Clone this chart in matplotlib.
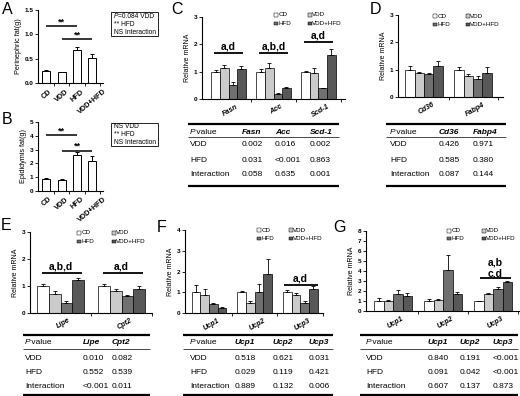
import matplotlib
matplotlib.use('Agg')
import matplotlib.pyplot as plt
from matplotlib.patches import Rectangle
import matplotlib.transforms as mtransforms

plt.rcParams['font.family'] = ['Liberation Sans', 'DejaVu Sans']

# ---------------- data ----------------
groups = ['CD', 'VDD', 'HFD', 'VDD+HFD']
group_colors = ['white', '#cbcbcb', '#707070', '#585858']

perinephric_mean = [0.25, 0.22, 0.675, 0.52]
perinephric_err = [0.02, 0.015, 0.06, 0.08]
epididymis_mean = [0.87, 0.80, 2.60, 2.20]
epididymis_err = [0.08, 0.10, 0.20, 0.30]

row_names = ['VDD', 'HFD', 'Interaction']

C_genes = ['Fasn', 'Acc', 'Scd-1']
C_mean = [[1.00, 1.13, 0.53, 1.10], [1.00, 1.13, 0.20, 0.41], [1.00, 0.95, 0.40, 1.60]]
C_err = [[0.07, 0.10, 0.08, 0.10], [0.10, 0.17, 0.02, 0.04], [0.03, 0.20, 0.02, 0.23]]
C_sig = ['a,d', 'a,b,d', 'a,d']
C_sig_y = [1.68, 1.68, 2.09]
C_p = [['0.002', '0.016', '0.002'], ['0.031', '<0.001', '0.863'], ['0.058', '0.635', '0.001']]

D_genes = ['Cd36', 'Fabp4']
D_mean = [[1.00, 0.88, 0.83, 1.15], [1.00, 0.78, 0.66, 0.88]]
D_err = [[0.15, 0.03, 0.06, 0.15], [0.10, 0.06, 0.12, 0.20]]
D_p = [['0.426', '0.971'], ['0.585', '0.380'], ['0.087', '0.144']]

E_genes = ['Lipe', 'Cpt2']
E_mean = [[1.00, 0.72, 0.38, 1.23], [1.00, 0.83, 0.63, 0.90]]
E_err = [[0.08, 0.08, 0.08, 0.08], [0.08, 0.05, 0.04, 0.10]]
E_sig = ['a,b,d', 'a,d']
E_sig_y = [1.48, 1.48]
E_p = [['0.010', '0.082'], ['0.552', '0.539'], ['<0.001', '0.011']]

F_genes = ['Ucp1', 'Ucp2', 'Ucp3']
F_mean = [[1.00, 0.87, 0.43, 0.22], [1.00, 0.50, 1.03, 1.90], [1.00, 0.87, 0.48, 1.18]]
F_err = [[0.33, 0.30, 0.05, 0.05], [0.08, 0.08, 0.38, 0.72], [0.10, 0.10, 0.12, 0.12]]
F_sig = [None, None, 'a,d']
F_sig_y = [0, 0, 1.35]
F_p = [['0.518', '0.621', '0.031'], ['0.029', '0.119', '0.421'], ['0.889', '0.132', '0.006']]

G_genes = ['Ucp1', 'Ucp2', 'Ucp3']
G_mean = [[1.00, 1.05, 1.72, 1.48], [1.00, 1.12, 4.15, 1.75], [1.00, 1.72, 2.20, 2.90]]
G_err = [[0.30, 0.10, 0.40, 0.30], [0.25, 0.05, 1.45, 0.20], [0.05, 0.05, 0.20, 0.15]]
G_p = [['0.840', '0.191', '<0.001'], ['0.091', '0.042', '<0.001'], ['0.607', '0.137', '0.873']]

# ---------------- figure ----------------
W, H = 520, 396
fig = plt.figure(figsize=(W / 100, H / 100), dpi=100)

ov = fig.add_axes([0, 0, 1, 1], zorder=5)
ov.set_xlim(0, W)
ov.set_ylim(H, 0)
ov.axis('off')

TICKFS = 4.6


def px_axes(x0, x1, ytop, ybot):
    return fig.add_axes([x0 / W, 1 - ybot / H, (x1 - x0) / W, (ybot - ytop) / H])


def style_axes(ax, ylim, yticks, fmt, ylabel, ylabfs=5):
    ax.set_ylim(*ylim)
    for s in ['top', 'right']:
        ax.spines[s].set_visible(False)
    for s in ['left', 'bottom']:
        ax.spines[s].set_linewidth(0.8)
    ax.set_yticks(yticks)
    ax.set_yticklabels([fmt.format(v) for v in yticks], fontsize=TICKFS, fontweight='bold')
    ax.tick_params(axis='y', length=2, width=0.6, pad=1.5)
    ax.set_ylabel(ylabel, fontsize=ylabfs, labelpad=1.5)


def fat_panel(ax, means, errs, ylim, yticks, fmt, ylabel, sig_lines):
    x = list(range(len(groups)))
    ax.bar(x, means, width=0.52, color='white', edgecolor='black', linewidth=0.7, zorder=2)
    ax.errorbar(x, means, yerr=[[0] * len(errs), errs], fmt='none', ecolor='black',
                elinewidth=0.7, capsize=1.5, capthick=0.7, zorder=3)
    ax.set_xlim(-0.55, 3.69)
    style_axes(ax, ylim, yticks, fmt, ylabel, ylabfs=5.2)
    ax.set_xticks([0.5, 1.5, 2.5, 3.5])
    ax.set_xticklabels([])
    ax.tick_params(axis='x', length=2, width=0.6)
    trans = mtransforms.blended_transform_factory(ax.transData, ax.transAxes)
    for i, g in enumerate(groups):
        ax.text(i, -0.07, g, transform=trans, rotation=40, ha='center', va='top',
                fontsize=5.3, fontweight='bold')
    for (a, b, y) in sig_lines:
        ax.plot([a, b], [y, y], color='black', lw=1.1, solid_capstyle='butt')
        ax.text((a + b) / 2, y, '**', ha='center', va='bottom', fontsize=6.5, fontweight='bold')


def gene_panel(ax, genes, means, errs, xlim, ylim, yticks, sigs=None, sig_ys=None,
               sig_span=(-0.32, 0.32)):
    w = 0.19
    for gi in range(len(genes)):
        for k in range(len(groups)):
            xx = gi + (k - 1.5) * w
            ax.bar(xx, means[gi][k], width=w, color=group_colors[k], edgecolor='black',
                   linewidth=0.5, zorder=2)
            ax.errorbar(xx, means[gi][k], yerr=[[0], [errs[gi][k]]], fmt='none',
                        ecolor='black', elinewidth=0.6, capsize=1.3, capthick=0.6, zorder=3)
    ax.set_xlim(*xlim)
    style_axes(ax, ylim, yticks, '{:g}', 'Relative mRNA')
    ax.set_xticks([g + 0.5 for g in range(len(genes))])
    ax.set_xticklabels([])
    ax.tick_params(axis='x', length=2.5, width=0.6)
    trans = mtransforms.blended_transform_factory(ax.transData, ax.transAxes)
    for gi, g in enumerate(genes):
        ax.text(gi + 0.05, -0.05, g, transform=trans, rotation=30, ha='center', va='top',
                fontsize=5.2, fontstyle='italic', fontweight='bold')
    if sigs:
        for gi, s in enumerate(sigs):
            if s is None:
                continue
            y = sig_ys[gi]
            ax.plot([gi + sig_span[0], gi + sig_span[1]], [y, y], color='black', lw=1.3,
                    solid_capstyle='butt', zorder=4)
            ax.text(gi, y + 0.02 * (ylim[1] - ylim[0]), s, ha='center', va='bottom',
                    fontsize=7.5, fontweight='bold')


def legend(x, y, dx, dy):
    for k, g in enumerate(groups):
        col, row = k % 2, k // 2
        xx, yy = x + col * dx, y + row * dy
        ov.add_patch(Rectangle((xx, yy - 1.8), 3.6, 3.6, facecolor=group_colors[k],
                               edgecolor='black', linewidth=0.35))
        ov.text(xx + 4.2, yy, g, fontsize=4.5, va='center', ha='left')


def table(x0, x1, ytop, col_x, headers, pvals, compact=False):
    if compact:
        yh, ythin, rows, ybot = ytop + 8, ytop + 13.5, [ytop + 23, ytop + 38, ytop + 52], ytop + 59.5
    else:
        yh, ythin, rows, ybot = ytop + 8.5, ytop + 13.5, [ytop + 21.5, ytop + 36.5, ytop + 51.5], ytop + 62.5
    ov.plot([x0, x1], [ytop, ytop], color='black', lw=1.6, solid_capstyle='butt')
    ov.plot([x0, x1], [ythin, ythin], color='black', lw=0.5, solid_capstyle='butt')
    ov.plot([x0, x1], [ybot, ybot], color='black', lw=1.6, solid_capstyle='butt')
    FS = 6
    ov.text(col_x[0], yh, 'P', fontsize=FS, fontstyle='italic', va='center', ha='left')
    ov.text(col_x[0] + 4.2, yh, ' value', fontsize=FS, va='center', ha='left')
    for j, hdr in enumerate(headers):
        ov.text(col_x[j + 1], yh, hdr, fontsize=FS, fontstyle='italic', fontweight='bold',
                va='center', ha='left')
    for r, name in enumerate(row_names):
        ov.text(col_x[0], rows[r], name, fontsize=FS, va='center', ha='left')
        for j in range(len(headers)):
            ov.text(col_x[j + 1], rows[r], pvals[r][j], fontsize=FS, va='center', ha='left')


# ---------- Panel A ----------
axA = px_axes(38, 103, 10, 83)
fat_panel(axA, perinephric_mean, perinephric_err, (0, 1.5), [0, 0.5, 1.0, 1.5], '{:.1f}',
          'Perinephric fat(g)', [(0, 2, 1.17), (1, 3, 0.9)])
# ---------- Panel B ----------
axB = px_axes(38, 103, 122, 191)
fat_panel(axB, epididymis_mean, epididymis_err, (0, 5), [0, 1, 2, 3, 4, 5], '{:d}',
          'Epididymis fat(g)', [(0, 2, 4.05), (1, 3, 2.9)])

# boxes A, B
ov.add_patch(Rectangle((111, 12), 47, 24, fill=False, lw=0.6))
ov.text(113.5, 16, 'P', fontsize=4.8, fontstyle='italic', va='center')
ov.text(118, 16, '=0.084 VDD', fontsize=4.8, va='center')
ov.text(113.5, 24, '** HFD', fontsize=4.8, va='center')
ov.text(113.5, 32, 'NS Interaction', fontsize=4.8, va='center')
ov.add_patch(Rectangle((111, 123), 47, 23, fill=False, lw=0.6))
ov.text(113.5, 127, 'NS VDD', fontsize=4.8, va='center')
ov.text(113.5, 134.5, '** HFD', fontsize=4.8, va='center')
ov.text(113.5, 142, 'NS Interaction', fontsize=4.8, va='center')

# ---------- Panel C ----------
axC = px_axes(202, 345, 17, 99)
gene_panel(axC, C_genes, C_mean, C_err, (-0.59, 2.59), (0, 3), [0, 1, 2, 3], C_sig, C_sig_y)
legend(274, 15, 34, 8.5)
table(188, 339, 123.5, [190, 242, 275, 310], C_genes, C_p)

# ---------- Panel D ----------
axD = px_axes(398, 503, 15, 97)
gene_panel(axD, D_genes, D_mean, D_err, (-0.53, 1.61), (0, 3), [0, 1, 2, 3])
legend(433, 16, 33, 8.5)
table(386, 506, 123.5, [390, 439, 473], D_genes, D_p)

# ---------- Panel E ----------
axE = px_axes(30, 152, 232, 313)
gene_panel(axE, E_genes, E_mean, E_err, (-0.5, 1.45), (0, 3), [0, 1, 2, 3], E_sig, E_sig_y,
           sig_span=(-0.3, 0.36))
legend(77, 233, 35, 8.5)
table(23, 150, 335, [25, 83, 112], E_genes, E_p, compact=True)

# ---------- Panel F ----------
axF = px_axes(185, 323, 230, 313)
gene_panel(axF, F_genes, F_mean, F_err, (-0.53, 2.47), (0, 4), [0, 1, 2, 3, 4], F_sig, F_sig_y,
           sig_span=(-0.35, 0.4))
legend(257, 230, 32, 8.5)
table(183, 333, 335, [190, 235, 273, 309], F_genes, F_p, compact=True)

# ---------- Panel G ----------
axG = px_axes(366, 519, 231, 311)
gene_panel(axG, G_genes, G_mean, G_err, (-0.54, 2.52), (0, 8), list(range(9)))
axG.plot([2 - 0.26, 2 + 0.36], [3.3, 3.3], color='black', lw=1.3, solid_capstyle='butt', zorder=4)
axG.text(2.05, 3.25, 'c,d', ha='center', va='bottom', fontsize=7.5, fontweight='bold')
axG.text(2.05, 4.35, 'a,b', ha='center', va='bottom', fontsize=7.5, fontweight='bold')
legend(447, 231, 35, 7.5)
table(360, 518, 335, [366, 428, 460, 493], G_genes, G_p, compact=True)

# panel letters
for lab, (x, y) in {'A': (2, 9), 'B': (2, 120), 'C': (171, 9), 'D': (370, 9),
                    'E': (1, 225), 'F': (157, 227), 'G': (333, 227)}.items():
    ov.text(x, y, lab, fontsize=11.5, va='center', ha='left')

fig.savefig('out.png', dpi=100)
